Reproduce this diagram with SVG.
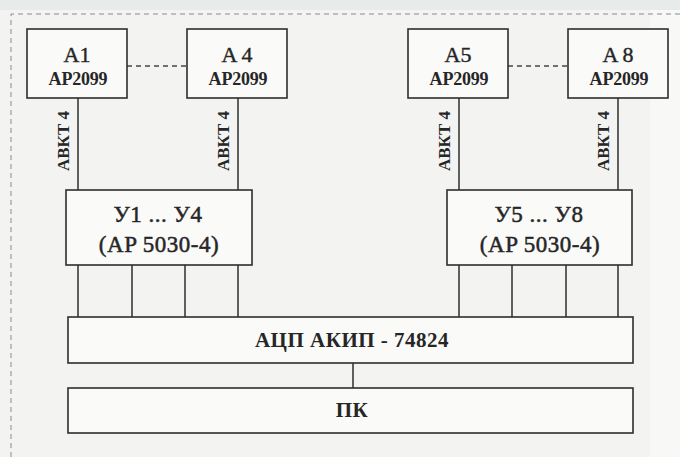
<svg xmlns="http://www.w3.org/2000/svg" width="680" height="457" viewBox="0 0 680 457">
<style>
.box{fill:#fafaf9;stroke:#2e2e2e;stroke-width:1.6}
.ln{stroke:#2e2e2e;stroke-width:1.5;fill:none}
.dash{stroke:#444;stroke-width:1.3;stroke-dasharray:5 4;fill:none}
.brd{stroke:#8a8a8a;stroke-width:1;stroke-dasharray:5 4;fill:none}
text{font-family:"Liberation Serif","Times New Roman",serif;fill:#262626;text-anchor:middle}
.big{font-size:22px;stroke:#262626;stroke-width:0.4}
.sub{font-size:18px;font-weight:bold;letter-spacing:-0.2px}
.cab{font-size:17px;font-weight:bold}
.mid{font-size:23px;letter-spacing:0.5px;stroke:#262626;stroke-width:0.5}
.wide{font-size:21px;font-weight:bold;letter-spacing:0.5px}
</style>
<rect x="0" y="0" width="680" height="457" fill="#f3f4f2"/>
<rect x="0" y="0" width="680" height="10" fill="#e7ebea"/>
<rect x="650" y="10" width="30" height="447" fill="#f8f8f7"/>
<path class="brd" d="M11,457 V14 H680"/>
<g id="connectors">
<line class="dash" x1="127" y1="66" x2="187" y2="66"/>
<line class="dash" x1="508" y1="66" x2="568" y2="66"/>
<line class="ln" x1="78" y1="98" x2="78" y2="190"/>
<line class="ln" x1="238" y1="98" x2="238" y2="190"/>
<line class="ln" x1="459" y1="98" x2="459" y2="190"/>
<line class="ln" x1="618" y1="98" x2="618" y2="190"/>
<line class="ln" x1="78" y1="265" x2="78" y2="317"/>
<line class="ln" x1="132" y1="265" x2="132" y2="317"/>
<line class="ln" x1="185" y1="265" x2="185" y2="317"/>
<line class="ln" x1="238" y1="265" x2="238" y2="317"/>
<line class="ln" x1="459" y1="265" x2="459" y2="317"/>
<line class="ln" x1="512" y1="265" x2="512" y2="317"/>
<line class="ln" x1="566" y1="265" x2="566" y2="317"/>
<line class="ln" x1="618" y1="265" x2="618" y2="317"/>
<line class="ln" x1="353" y1="363" x2="353" y2="388"/>
<text class="cab" transform="translate(69,141) rotate(-90)">АВКТ 4</text>
<text class="cab" transform="translate(229,141) rotate(-90)">АВКТ 4</text>
<text class="cab" transform="translate(450,141) rotate(-90)">АВКТ 4</text>
<text class="cab" transform="translate(609,141) rotate(-90)">АВКТ 4</text>
</g>
<g id="a1">
<rect class="box" x="27" y="29" width="100" height="69"/>
<text class="big" x="77" y="62">A1</text>
<text class="sub" x="78" y="85">AP2099</text>
</g>
<g id="a4">
<rect class="box" x="187" y="29" width="100" height="69"/>
<text class="big" x="237" y="62">A 4</text>
<text class="sub" x="238" y="85">AP2099</text>
</g>
<g id="a5">
<rect class="box" x="408" y="29" width="100" height="69"/>
<text class="big" x="458" y="62">A5</text>
<text class="sub" x="459" y="85">AP2099</text>
</g>
<g id="a8">
<rect class="box" x="568" y="29" width="100" height="69"/>
<text class="big" x="618" y="62">A 8</text>
<text class="sub" x="619" y="85">AP2099</text>
</g>
<g id="u1">
<rect class="box" x="66" y="190" width="186" height="75"/>
<text class="mid" x="158" y="222">У1 ... У4</text>
<text class="mid" x="159" y="252">(AP 5030-4)</text>
</g>
<g id="u5">
<rect class="box" x="447" y="190" width="185" height="75"/>
<text class="mid" x="539" y="222">У5 ... У8</text>
<text class="mid" x="540" y="252">(AP 5030-4)</text>
</g>
<g id="adc">
<rect class="box" x="68" y="317" width="565" height="46"/>
<text class="wide" x="352" y="347">АЦП АКИП - 74824</text>
</g>
<g id="pc">
<rect class="box" x="68" y="388" width="565" height="45"/>
<text class="wide" x="352" y="417">ПК</text>
</g>
</svg>
